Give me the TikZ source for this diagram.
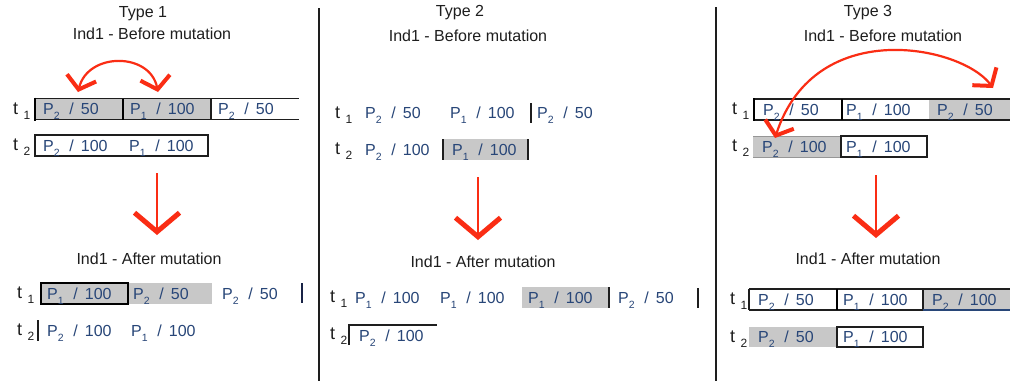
\documentclass[tikz,border=0pt]{standalone}
\usepackage{fontspec}
\setmainfont{Liberation Sans}
\usetikzlibrary{arrows.meta}
\definecolor{cellgray}{RGB}{200,200,200}
\definecolor{edgegray}{RGB}{150,150,150}
\definecolor{mred}{RGB}{250,45,20}
\definecolor{pblue}{RGB}{40,70,120}
\definecolor{ink}{RGB}{30,30,30}
\definecolor{navy}{RGB}{25,35,70}
% subscript, gene "P_i / duration" and time-slot label
\newcommand\subs[1]{\raisebox{-0.32em}{\fontsize{10.5}{11}\selectfont #1}}
\newcommand\tsubs[1]{\raisebox{-0.3em}{\fontsize{12}{12}\selectfont #1}}
\newcommand\pv[2]{P\subs{#1}\hspace{0.6em}/\hspace{0.45em}#2}
\newcommand\tslot[1]{t\hspace{0.3em}\tsubs{#1}}
\begin{document}
\begin{tikzpicture}[x=1pt,y=-1pt,
  title/.style={font=\fontsize{16}{18}\selectfont, text=ink, inner sep=0pt},
  gene/.style={font=\fontsize{16}{18}\selectfont, text=pblue, anchor=west,
    inner sep=0pt, text height=11.5pt, text depth=0pt},
  tlab/.style={font=\fontsize{18}{20}\selectfont, text=ink, anchor=west,
    inner sep=0pt, text height=12pt, text depth=0pt},
  thinline/.style={draw=ink, line width=1.1pt},
  thickline/.style={draw=black, line width=2.4pt},
  bar/.style={draw=ink, line width=1.8pt},
  navybar/.style={draw=navy, line width=2.8pt},
  sep/.style={draw=ink, line width=2pt},
  swap/.style={draw=mred, line width=2.2pt,
    {Straight Barb[length=12pt,width=30pt,line width=4pt]}-{Straight Barb[length=12pt,width=30pt,line width=4pt]}},
  down/.style={draw=mred, line width=2pt,
    -{Straight Barb[length=19pt,width=45pt,line width=5pt]}},
]
\useasboundingbox (0,0) rectangle (1010,381);
\fill[white] (0,0) rectangle (1010,381);

% panel separators
\draw[sep] (319,8) -- (319,381);
\draw[sep] (716,7) -- (716,381);

% ---------------- Type 1 ----------------
\node[title] (a-type) at (143,14) {Type 1};
\node[title] (a-before) at (152,34) {Ind1 - Before mutation};

\fill[cellgray] (35,98.5) rectangle (211,119.5);
\draw[thinline] (35,98.5) -- (299,98.5) (35,119.5) -- (299,119.5) (211,98.5) -- (211,119.5);
\draw[thickline] (35,97.5) -- (35,120.5) (123,98.5) -- (123,119.5);
\node[tlab] (a-t1) at (13,108) {\tslot{1}};
\node[gene] (a-g11) at (43,109) {\pv{2}{50}};
\node[gene] (a-g12) at (130,109) {\pv{1}{100}};
\node[gene] (a-g13) at (218,109) {\pv{2}{50}};

\draw[thinline] (35,135) rectangle (208,156);
\node[tlab] (a-t2) at (13,144) {\tslot{2}};
\node[gene] (a-g21) at (43,145.5) {\pv{2}{100}};
\node[gene] (a-g22) at (129,145.5) {\pv{1}{100}};

\coordinate (a-s1) at (78,92);
\coordinate (a-s2) at (158,92);
\draw[swap] (a-s1) .. controls (88,52) and (150,52) .. (a-s2);

\coordinate (a-d0) at (157,173);
\coordinate (a-d1) at (157,235);
\draw[down] (a-d0) -- (a-d1);

\node[title] (a-after) at (149,259) {Ind1 - After mutation};

\fill[cellgray] (41,283) rectangle (212,304);
\draw[thickline] (41,283) rectangle (128,304);
\node[tlab] (a-u1) at (17,292.5) {\tslot{1}};
\node[gene] (a-h11) at (47,293.5) {\pv{1}{100}};
\node[gene] (a-h12) at (133,293.5) {\pv{2}{50}};
\node[gene] (a-h13) at (222,293.5) {\pv{2}{50}};
\draw[navybar] (302,283) -- (302,303);

\node[tlab] (a-u2) at (17,329.5) {\tslot{2}};
\draw[bar] (38,320) -- (38,341);
\node[gene] (a-h21) at (47,330.5) {\pv{2}{100}};
\node[gene] (a-h22) at (131,330.5) {\pv{1}{100}};

% ---------------- Type 2 ----------------
\node[title] (b-type) at (460,13) {Type 2};
\node[title] (b-before) at (468,36) {Ind1 - Before mutation};

\node[tlab] (b-t1) at (335,112) {\tslot{1}};
\node[gene] (b-g11) at (365,113) {\pv{2}{50}};
\node[gene] (b-g12) at (450,113) {\pv{1}{100}};
\draw[bar] (531,103) -- (531,123);
\node[gene] (b-g13) at (537,113) {\pv{2}{50}};

\node[tlab] (b-t2) at (335,148.5) {\tslot{2}};
\node[gene] (b-g21) at (365,149.5) {\pv{2}{100}};
\fill[cellgray] (443,139) rectangle (528,160);
\draw[bar] (443,139) -- (443,160) (528,139) -- (528,160);
\node[gene] (b-g22) at (452,149.5) {\pv{1}{100}};

\coordinate (b-d0) at (478,177);
\coordinate (b-d1) at (478,240);
\draw[down] (b-d0) -- (b-d1);

\node[title] (b-after) at (483,262) {Ind1 - After mutation};

\node[tlab] (b-u1) at (330,296.5) {\tslot{1}};
\node[gene] (b-h11) at (355,297.5) {\pv{1}{100}};
\node[gene] (b-h12) at (440,297.5) {\pv{1}{100}};
\fill[cellgray] (522,287) rectangle (609,308);
\draw[bar] (609,287) -- (609,308);
\node[gene] (b-h13) at (528,297.5) {\pv{1}{100}};
\node[gene] (b-h14) at (618,297.5) {\pv{2}{50}};
\draw[bar] (698,288) -- (698,308);

\node[tlab] (b-u2) at (330,333) {\tslot{2}};
\draw[thinline] (349,345) -- (349,325) -- (437,325);
\node[gene] (b-h21) at (359,336) {\pv{2}{100}};

% ---------------- Type 3 ----------------
\node[title] (c-type) at (868,13) {Type 3};
\node[title] (c-before) at (883,36) {Ind1 - Before mutation};

\fill[cellgray] (929,99) rectangle (1010,120);
\draw[thinline] (754,99) -- (1010,99) (754,120) -- (1010,120);
\draw[thickline] (754,98) -- (754,121) (842,99) -- (842,120);
\node[tlab] (c-t1) at (732,108.5) {\tslot{1}};
\node[gene] (c-g11) at (763,109.5) {\pv{2}{50}};
\node[gene] (c-g12) at (846,109.5) {\pv{1}{100}};
\node[gene] (c-g13) at (937,109.5) {\pv{2}{50}};

\fill[cellgray] (753,136) rectangle (841,157);
\draw[edgegray, line width=0.8pt] (753,136) -- (841,136) (753,157) -- (841,157);
\draw[thinline] (841,136) rectangle (927,157);
\node[tlab] (c-t2) at (732,145.5) {\tslot{2}};
\node[gene] (c-g21) at (762,146.5) {\pv{2}{100}};
\node[gene] (c-g22) at (846,146.5) {\pv{1}{100}};

\coordinate (c-s1) at (775,138);
\coordinate (c-s2) at (993,88);
\draw[swap] (c-s1) .. controls (815,15) and (962,46) .. (c-s2);

\coordinate (c-d0) at (876,175);
\coordinate (c-d1) at (876,238);
\draw[down] (c-d0) -- (c-d1);

\node[title] (c-after) at (868,259) {Ind1 - After mutation};

\fill[cellgray] (923,289) rectangle (1010,310);
\draw[thinline] (749,289) -- (1010,289) (749,310) -- (923,310)
  (749,289) -- (749,310) (923,289) -- (923,310);
\draw[thickline] (837,289) -- (837,310);
\draw[pblue, line width=1.2pt] (923,310) -- (1010,310);
\node[tlab] (c-u1) at (730,298.5) {\tslot{1}};
\node[gene] (c-h11) at (758,299.5) {\pv{2}{50}};
\node[gene] (c-h12) at (843,299.5) {\pv{1}{100}};
\node[gene] (c-h13) at (932,299.5) {\pv{2}{100}};

\fill[cellgray] (749,327) rectangle (837,347);
\draw[thinline] (837,327) rectangle (923,347);
\node[tlab] (c-u2) at (730,336) {\tslot{2}};
\node[gene] (c-h21) at (758,337) {\pv{2}{50}};
\node[gene] (c-h22) at (843,337) {\pv{1}{100}};
\end{tikzpicture}
\end{document}
